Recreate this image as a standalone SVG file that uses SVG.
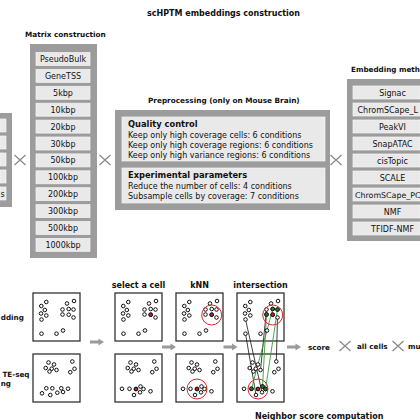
<svg xmlns="http://www.w3.org/2000/svg" xmlns:xlink="http://www.w3.org/1999/xlink" width="420" height="420" viewBox="0 0 420 420">
<style>
text{font-family:"DejaVu Sans","Liberation Sans",sans-serif;fill:#111}
.h{font-weight:bold}
.outer{fill:#9c9c9c}
.inner{fill:#e9e9e9;stroke:#f6f6f6;stroke-width:0.7}
.lbl{font-size:8px;text-anchor:middle}
.x{stroke:#8a8a8a;stroke-width:1.3;fill:none}
.plot{fill:#fff;stroke:#333;stroke-width:1.3}
.d circle{fill:#fff;stroke:#111;stroke-width:1}
.red{fill:#c81e1e;stroke:#111;stroke-width:1}
.grn{fill:#2e7d2e;stroke:#111;stroke-width:1}
.rc{fill:none;stroke:#d42a2a;stroke-width:1}
.arr{fill:#9a9a9a}
.bl{stroke:#111;stroke-width:0.8}
.gl{stroke:#3a9a3a;stroke-width:0.9}
</style>
<defs>
<path id="xm" d="M-5.5,-5 L5.5,5 M-5.5,5 L5.5,-5"/>
<path id="ar" d="M0,-1.6 H8.5 V-3.4 L14,0 L8.5,3.4 V1.6 H0 Z"/>
<g id="dTop" class="d">
<circle cx="13.3" cy="9" r="1.8"/><circle cx="8.3" cy="13" r="1.8"/><circle cx="11.8" cy="17" r="1.8"/><circle cx="8" cy="20.5" r="1.8"/><circle cx="13.3" cy="22.5" r="1.8"/><circle cx="8.5" cy="26.5" r="1.8"/>
<circle cx="34" cy="10.5" r="1.8"/><circle cx="41" cy="8" r="1.8"/><circle cx="29.5" cy="16.5" r="1.8"/><circle cx="35.7" cy="16" r="1.8"/><circle cx="40.5" cy="16.5" r="1.8"/><circle cx="29.5" cy="21.5" r="1.8"/><circle cx="35.7" cy="21.7" r="1.8"/><circle cx="40.5" cy="24.5" r="1.8"/>
<circle cx="8.5" cy="40.7" r="1.8"/><circle cx="23.5" cy="40.7" r="1.8"/><circle cx="30" cy="37.5" r="1.8"/>
</g>
<g id="dUp" class="d">
<circle cx="15.5" cy="8.5" r="1.8"/><circle cx="21" cy="10.5" r="1.8"/><circle cx="12.7" cy="14" r="1.8"/><circle cx="18.7" cy="14.7" r="1.8"/><circle cx="23.5" cy="16" r="1.8"/><circle cx="16.5" cy="17.5" r="1.8"/>
<circle cx="39.3" cy="7.5" r="1.8"/><circle cx="41.5" cy="14.8" r="1.8"/><circle cx="37.3" cy="18.2" r="1.8"/>
</g>
<g id="dBot" class="d">
<use xlink:href="#dUp" href="#dUp"/>
<circle cx="7" cy="34.8" r="1.8"/><circle cx="14.5" cy="34.8" r="1.8"/><circle cx="21" cy="35" r="1.8"/><circle cx="25.5" cy="32.5" r="1.8"/><circle cx="28.5" cy="35" r="1.8"/><circle cx="25" cy="38.3" r="1.8"/><circle cx="19" cy="41" r="1.8"/><circle cx="35.5" cy="37.3" r="1.8"/>
</g>
<g id="dBot1" class="d">
<use xlink:href="#dUp" href="#dUp"/>
<circle cx="9" cy="39.3" r="1.8"/><circle cx="13.3" cy="34.3" r="1.8"/><circle cx="17.3" cy="41" r="1.8"/><circle cx="19.3" cy="34.3" r="1.8"/><circle cx="24.3" cy="38.7" r="1.8"/><circle cx="28.3" cy="34.3" r="1.8"/><circle cx="30" cy="38" r="1.8"/><circle cx="35" cy="34.7" r="1.8"/>
</g>
</defs>

<text class="h" x="147" y="16" font-size="8">scHPTM embeddings construction</text>

<g id="left-box">
<rect class="outer" x="0" y="113" width="12" height="94"/>
<rect class="inner" x="0" y="119" width="6" height="13"/>
<rect class="inner" x="0" y="136" width="6" height="13"/>
<rect class="inner" x="0" y="153" width="6" height="13"/>
<rect class="inner" x="0" y="170" width="6" height="13"/>
<rect class="inner" x="0" y="187" width="6" height="13"/>
<text x="0.5" y="196.5" font-size="8">s</text>
</g>

<g id="x-marks">
<use xlink:href="#xm" href="#xm" class="x" x="20" y="160"/>
<use xlink:href="#xm" href="#xm" class="x" x="105" y="160"/>
<use xlink:href="#xm" href="#xm" class="x" x="336" y="160"/>
<use xlink:href="#xm" href="#xm" class="x" x="345" y="346"/>
<use xlink:href="#xm" href="#xm" class="x" x="398" y="346"/>
</g>

<g id="matrix">
<text class="h" x="25" y="36.5" font-size="7.3">Matrix construction</text>
<rect class="outer" x="30" y="44" width="67" height="214"/>
<rect class="inner" x="36" y="52.5" width="54" height="13"/><text class="lbl" x="63" y="62">PseudoBulk</text>
<rect class="inner" x="36" y="69.4" width="54" height="13"/><text class="lbl" x="63" y="78.9">GeneTSS</text>
<rect class="inner" x="36" y="86.3" width="54" height="13"/><text class="lbl" x="63" y="95.8">5kbp</text>
<rect class="inner" x="36" y="103.2" width="54" height="13"/><text class="lbl" x="63" y="112.7">10kbp</text>
<rect class="inner" x="36" y="120.1" width="54" height="13"/><text class="lbl" x="63" y="129.6">20kbp</text>
<rect class="inner" x="36" y="137" width="54" height="13"/><text class="lbl" x="63" y="146.5">30kbp</text>
<rect class="inner" x="36" y="153.9" width="54" height="13"/><text class="lbl" x="63" y="163.4">50kbp</text>
<rect class="inner" x="36" y="170.8" width="54" height="13"/><text class="lbl" x="63" y="180.3">100kbp</text>
<rect class="inner" x="36" y="187.7" width="54" height="13"/><text class="lbl" x="63" y="197.2">200kbp</text>
<rect class="inner" x="36" y="204.6" width="54" height="13"/><text class="lbl" x="63" y="214.1">300kbp</text>
<rect class="inner" x="36" y="221.5" width="54" height="13"/><text class="lbl" x="63" y="231">500kbp</text>
<rect class="inner" x="36" y="238.4" width="54" height="13"/><text class="lbl" x="63" y="247.9">1000kbp</text>
</g>

<g id="preprocessing">
<text class="h" x="148" y="102.5" font-size="7.3">Preprocessing (only on Mouse Brain)</text>
<rect class="outer" x="115" y="110" width="215" height="100"/>
<rect class="inner" x="122" y="117" width="203" height="44"/>
<text class="h" x="128" y="127" font-size="8.3">Quality control</text>
<text x="128" y="137.5" font-size="8">Keep only high coverage cells: 6 conditions</text>
<text x="128" y="147.5" font-size="8">Keep only high coverage regions: 6 conditions</text>
<text x="128" y="157.5" font-size="8">Keep only high variance regions: 6 conditions</text>
<rect class="inner" x="122" y="168" width="203" height="35"/>
<text class="h" x="128" y="178" font-size="8.3">Experimental parameters</text>
<text x="128" y="188.5" font-size="8">Reduce the number of cells: 4 conditions</text>
<text x="128" y="198.5" font-size="8">Subsample cells by coverage: 7 conditions</text>
</g>

<g id="embedding">
<text class="h" x="351" y="71.5" font-size="7.2">Embedding meth</text>
<rect class="outer" x="347" y="79" width="73" height="162"/>
<rect class="inner" x="353" y="86" width="67" height="13"/><text class="lbl" x="392.5" y="95.5">Signac</text>
<rect class="inner" x="353" y="103" width="67" height="13"/><text x="357.5" y="112.5" font-size="8">ChromSCape_L</text>
<rect class="inner" x="353" y="120" width="67" height="13"/><text class="lbl" x="392.5" y="129.5">PeakVI</text>
<rect class="inner" x="353" y="137" width="67" height="13"/><text class="lbl" x="392.5" y="146.5">SnapATAC</text>
<rect class="inner" x="353" y="154" width="67" height="13"/><text class="lbl" x="392.5" y="163.5">cisTopic</text>
<rect class="inner" x="353" y="171" width="67" height="13"/><text class="lbl" x="392.5" y="180.5">SCALE</text>
<rect class="inner" x="353" y="188" width="67" height="13"/><text x="355" y="197.5" font-size="7.9">ChromSCape_PC</text>
<rect class="inner" x="353" y="205" width="67" height="13"/><text class="lbl" x="392.5" y="214.5">NMF</text>
<rect class="inner" x="353" y="222" width="67" height="13"/><text class="lbl" x="392.5" y="231.5">TFIDF-NMF</text>
</g>

<g id="row-labels" class="h" font-size="7.2" text-anchor="end">
<text x="23.8" y="319.5">dding</text>
<text x="29.5" y="376.5">TE-seq</text>
<text x="11" y="385.5">ng</text>
</g>

<g id="col-raw">
<rect class="plot" x="33" y="293" width="47" height="48"/>
<use xlink:href="#dTop" href="#dTop" x="33" y="293"/>
<rect class="plot" x="33" y="354" width="47" height="48"/>
<use xlink:href="#dBot1" href="#dBot1" x="33" y="354"/>
</g>

<g id="col-select">
<text class="h lbl" x="138.5" y="287.5" font-size="7">select a cell</text>
<rect class="plot" x="115" y="293" width="47" height="48"/>
<use xlink:href="#dTop" href="#dTop" x="115" y="293"/>
<circle class="red" cx="150.7" cy="314.7" r="1.8"/>
<rect class="plot" x="115" y="354" width="47" height="48"/>
<use xlink:href="#dBot" href="#dBot" x="115" y="354"/>
<circle class="red" cx="136" cy="389" r="1.8"/>
</g>

<g id="col-knn">
<text class="h lbl" x="199.5" y="287.5" font-size="7">kNN</text>
<rect class="plot" x="176" y="293" width="47" height="48"/>
<use xlink:href="#dTop" href="#dTop" x="176" y="293"/>
<circle class="red" cx="211.7" cy="314.7" r="1.8"/>
<circle class="rc" cx="211.7" cy="315" r="10"/>
<rect class="plot" x="176" y="354" width="47" height="48"/>
<use xlink:href="#dBot" href="#dBot" x="176" y="354"/>
<circle class="red" cx="197" cy="389" r="1.8"/>
<circle class="rc" cx="197" cy="389" r="10"/>
</g>

<g id="col-intersection">
<text class="h lbl" x="260.5" y="287.5" font-size="7">intersection</text>
<rect class="plot" x="237" y="293" width="47" height="48"/>
<rect class="plot" x="237" y="354" width="47" height="48"/>
</g>

<g id="connectors">
<line class="bl" x1="266.5" y1="309.5" x2="260.5" y2="370"/>
<line class="bl" x1="277.5" y1="317.5" x2="276.3" y2="361.5"/>
<line class="bl" x1="245.5" y1="319.5" x2="262" y2="392.3"/>
<line class="bl" x1="245.5" y1="333.7" x2="256" y2="395"/>
<line class="gl" x1="272.7" y1="309" x2="251.5" y2="388.8"/>
<line class="gl" x1="277.5" y1="309.5" x2="265.5" y2="389"/>
<line class="gl" x1="266.5" y1="314.5" x2="262.5" y2="386.5"/>
<use xlink:href="#ar" href="#ar" class="arr" x="90" y="342"/>
<use xlink:href="#ar" href="#ar" class="arr" x="162" y="347"/>
<use xlink:href="#ar" href="#ar" class="arr" x="223.5" y="347"/>
<use xlink:href="#ar" href="#ar" class="arr" x="287" y="347"/>
</g>

<g id="intersection-dots">
<use xlink:href="#dTop" href="#dTop" x="237" y="293"/>
<circle class="grn" cx="272.7" cy="309" r="1.8"/>
<circle class="grn" cx="277.5" cy="309.5" r="1.8"/>
<circle class="grn" cx="266.5" cy="314.5" r="1.8"/>
<circle class="red" cx="272.7" cy="314.7" r="1.8"/>
<circle class="rc" cx="272.7" cy="315" r="10"/>
<use xlink:href="#dBot" href="#dBot" x="237" y="354"/>
<circle class="grn" cx="251.5" cy="388.8" r="1.8"/>
<circle class="grn" cx="262.5" cy="386.5" r="1.8"/>
<circle class="grn" cx="265.5" cy="389" r="1.8"/>
<circle class="red" cx="258" cy="389" r="1.8"/>
<circle class="rc" cx="258" cy="389" r="10"/>
</g>

<g id="score" class="h" font-size="7.2">
<text x="308" y="349.5">score</text>
<text x="357" y="349">all cells</text>
<text x="408" y="349">mu</text>
</g>
<text class="h" x="255" y="419" font-size="8">Neighbor score computation</text>
</svg>
